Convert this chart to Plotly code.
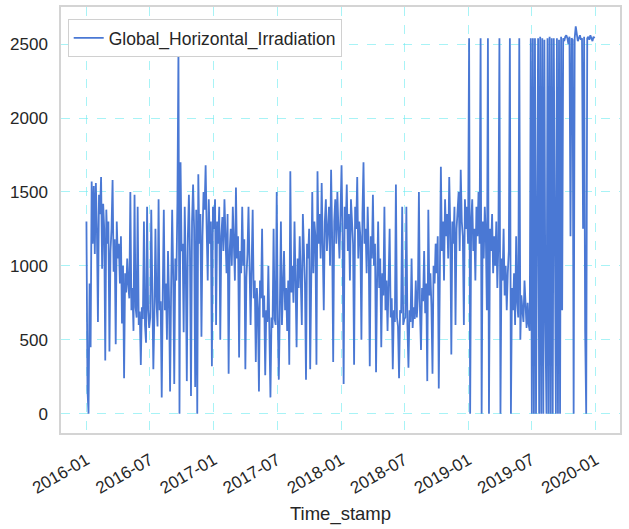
import pandas as pd
import plotly.graph_objects as go

# Daily irradiation, sampled every 3 days, one list per half-year
h1_2016 = [1300, 160, 0, 880, 450, 1570, 1150, 1540, 1080, 1560, 1250,
           620, 1480, 1350, 1600, 980, 1420, 1250, 360, 1380, 1150,
           1300, 420, 1100, 1250, 1580, 960, 1180, 470, 1300, 1050,
           1150, 880, 1200, 610, 1000, 240, 950, 820, 1050, 870,
           780, 1500, 700, 850, 560, 1480, 720, 650, 1400, 600,
           690, 330, 720, 640, 1300, 600, 480, 1400, 700, 580]
h2_2016 = [650, 1380, 720, 300, 680, 1250, 760, 590, 1450, 700,
           760, 110, 820, 1380, 700, 880, 500, 1100, 780, 150,
           850, 1380, 920, 200, 1050, 900, 1420, 2460, 0, 1700,
           1100, 1150, 550, 1400, 1000, 220, 1200, 1480, 1100, 120,
           1300, 1550, 1250, 180, 1380, 0, 1620, 1150, 1350, 520,
           1200, 1500, 1380, 1680, 1250, 900, 1450, 1150, 1300, 320, 1400]
h1_2017 = [1250, 1450, 600, 1300, 1150, 1400, 500, 1200, 1330, 1100,
           1450, 1200, 950, 1350, 270, 1100, 1250, 1000, 1400, 1150,
           900, 1530, 1050, 1200, 380, 1100, 950, 1400, 1000, 1180,
           300, 920, 1080, 1400, 850, 600, 1000, 1380, 780, 900,
           350, 850, 720, 150, 900, 780, 1250, 650, 800, 260,
           700, 620, 1000, 560, 110, 650, 580, 1250, 640, 600, 1500]
h2_2017 = [650, 230, 720, 1300, 600, 800, 1100, 700, 850, 560,
           900, 330, 1640, 820, 1000, 750, 1300, 900, 450, 1050,
           850, 1200, 960, 600, 1350, 1000, 880, 230, 1150, 1050,
           1250, 300, 1100, 1500, 950, 1300, 1200, 330, 1640, 1150,
           1350, 1050, 1560, 1200, 700, 1300, 1450, 1100, 1250, 1400,
           1000, 1650, 1200, 350, 1300, 1450, 1150, 1500, 1250, 1050, 1350]
h1_2018 = [1680, 1200, 200, 1400, 1250, 1550, 1100, 1350, 900, 1450,
           1300, 1150, 330, 1400, 1250, 1600, 1050, 1300, 1200, 500,
           1350, 1700, 1150, 1250, 950, 1400, 1100, 320, 1200, 1050,
           1480, 1000, 1150, 280, 900, 1300, 850, 1050, 450, 950,
           800, 1400, 700, 900, 560, 820, 1250, 650, 780, 300,
           700, 620, 1550, 650, 590, 240, 700, 680, 1400, 600, 640]
h2_2018 = [650, 1400, 600, 310, 700, 620, 1050, 580, 720, 640,
           900, 650, 780, 1500, 700, 430, 850, 760, 1100, 680,
           880, 220, 1380, 800, 950, 720, 270, 1000, 880, 1150,
           950, 1200, 170, 1050, 1670, 1100, 1300, 900, 1450, 1200,
           1350, 1050, 1600, 1250, 400, 1300, 1150, 1400, 600, 1250,
           1350, 1500, 1100, 1650, 1300, 1200, 600, 1450, 1250, 1400, 1150]
h1_2019 = [2540, 0, 1300, 1450, 1100, 1250, 900, 1400, 1200, 1500,
           1150, 2540, 0, 1300, 1050, 1400, 1200, 700, 2540, 0,
           1250, 1100, 1350, 950, 1200, 1000, 1300, 850, 1150, 2540,
           0, 1050, 900, 1250, 800, 1000, 700, 950, 1100, 2540,
           0, 850, 700, 950, 600, 1200, 750, 650, 2540, 500,
           800, 700, 620, 900, 650, 580, 750, 600, 560, 2540, 0]
h2_2019 = [2540, 0, 2540, 0, 1200, 2540, 0, 2550, 0, 2540,
           0, 2530, 600, 0, 2540, 0, 2550, 0, 2540, 0,
           2540, 1300, 0, 2540, 0, 2530, 0, 2550, 700, 2540,
           2520, 2550, 2560, 2540, 2500, 2550, 1200, 2540, 2530, 0,
           2540, 2620, 2550, 2520, 2540, 2560, 2530, 2540, 1250, 2550,
           560, 0, 2540, 2550, 2530, 2560, 2540, 2520, 2550, 2540]

values = h1_2016 + h2_2016 + h1_2017 + h2_2017 + h1_2018 + h2_2018 + h1_2019 + h2_2019
dates = pd.date_range("2016-01-01", periods=len(values), freq="3D")

x_ticks = ["2016-01-01", "2016-07-01", "2017-01-01", "2017-07-01", "2018-01-01",
           "2018-07-01", "2019-01-01", "2019-07-01", "2020-01-01"]
x_tick_labels = ["2016-01", "2016-07", "2017-01", "2017-07", "2018-01",
                 "2018-07", "2019-01", "2019-07", "2020-01"]
y_ticks = [0, 500, 1000, 1500, 2000, 2500]

FONT = "Liberation Sans, Arial, sans-serif"
GRID = "rgba(110,235,240,0.6)"
FRAME = "#d4d4d4"

fig = go.Figure()
fig.add_trace(go.Scatter(
    x=dates, y=values, mode="lines",
    name="Global_Horizontal_Irradiation",
    line=dict(color="#4a78d4", width=1.8),
))

fig.update_layout(
    width=629, height=529,
    margin=dict(l=61, r=9, t=5, b=96),
    paper_bgcolor="white", plot_bgcolor="white",
    font=dict(family=FONT, size=16, color="#262626"),
    showlegend=True,
    legend=dict(
        x=0.012, y=0.972, xanchor="left", yanchor="top",
        bgcolor="white", bordercolor="#d0d0d0", borderwidth=1,
        font=dict(family=FONT, size=17.5, color="#262626"),
    ),
)

fig.update_xaxes(
    range=["2015-10-20", "2020-03-11"],
    tickvals=x_ticks, ticktext=x_tick_labels, tickangle=-30,
    showgrid=True, gridcolor=GRID, griddash="dash", gridwidth=1,
    showline=True, mirror=True, linecolor=FRAME, linewidth=1.5,
    ticks="outside", ticklen=9, tickcolor="rgba(0,0,0,0)",
    tickfont=dict(size=17),
    zeroline=False,
    title=dict(text="Time_stamp", font=dict(size=18.5), standoff=10),
)
fig.update_yaxes(
    range=[-131, 2751],
    tickvals=y_ticks,
    showgrid=True, gridcolor=GRID, griddash="dash", gridwidth=1,
    showline=True, mirror=True, linecolor=FRAME, linewidth=1.5,
    ticks="outside", ticklen=8, tickcolor="rgba(0,0,0,0)",
    tickfont=dict(size=17),
    zeroline=False,
)

fig.write_html("out.html")
